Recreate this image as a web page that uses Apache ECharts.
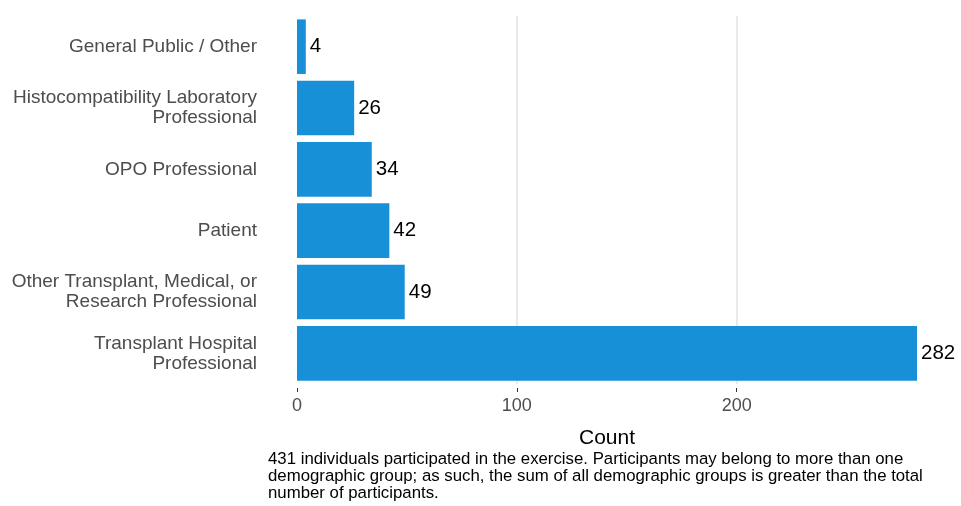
<!DOCTYPE html>
<html><head><meta charset="utf-8">
<script src="https://cdn.jsdelivr.net/npm/echarts@6/dist/echarts.min.js"></script>
<style>html,body{margin:0;padding:0;background:#fff}#c{width:961px;height:506px}</style>
</head><body><div id="c"></div>
<script>
const categories = [
  "Transplant Hospital\nProfessional",
  "Other Transplant, Medical, or\nResearch Professional",
  "Patient",
  "OPO Professional",
  "Histocompatibility Laboratory\nProfessional",
  "General Public / Other"
];
const counts = [282, 49, 42, 34, 26, 4];
const xTicks = [0, 100, 200];
const axisTitle = "Count";
const caption = "431 individuals participated in the exercise. Participants may belong to more than one\ndemographic group; as such, the sum of all demographic groups is greater than the total\nnumber of participants.";

const FONT = "Liberation Sans, Arial, sans-serif";
const chart = echarts.init(document.getElementById('c'));
chart.setOption({
  animation: false,
  backgroundColor: '#fff',
  textStyle: { fontFamily: FONT },
  grid: { left: 297, top: 16, width: 651, height: 368, containLabel: false },
  xAxis: {
    type: 'value', min: 0, max: 296.1, interval: 100, offset: 4,
    axisLine: { show: false },
    axisTick: { show: true, length: 4, customValues: xTicks, lineStyle: { color: '#333', width: 1 } },
    axisLabel: { color: '#4d4d4d', fontSize: 18, fontFamily: FONT, margin: 9, customValues: xTicks,
      formatter: v => xTicks.includes(v) ? String(v) : '' },
    splitLine: { show: true, showMinLine: false, showMaxLine: true, lineStyle: { color: '#e3e3e3', width: 1.5 } }
  },
  yAxis: {
    type: 'category', data: categories,
    axisLine: { show: false }, axisTick: { show: false },
    axisLabel: { color: '#4d4d4d', fontSize: 19, lineHeight: 20, fontFamily: FONT, margin: 40, align: 'right' },
    splitLine: { show: false }
  },
  series: [{
    type: 'bar', data: counts, barCategoryGap: '11%',
    itemStyle: { color: '#1890d8' },
    label: { show: true, position: 'right', distance: 4, color: '#000', fontSize: 20.5, fontFamily: FONT }
  }],
  graphic: [{
    type: 'text', x: 607, y: 438,
    style: { text: axisTitle, fill: '#000', fontSize: 21, fontFamily: FONT, align: 'center', verticalAlign: 'middle' }
  }, {
    type: 'text', left: 268, top: 451,
    style: { text: caption, fill: '#000', fontSize: 16.8, lineHeight: 17, fontFamily: FONT }
  }]
});
</script></body></html>
